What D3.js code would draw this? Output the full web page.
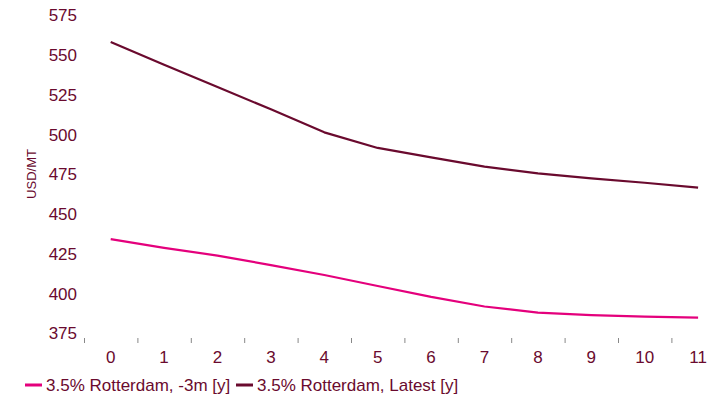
<!DOCTYPE html>
<html><head><meta charset="utf-8">
<script src="https://cdn.jsdelivr.net/npm/d3@7"></script>
<style>body{margin:0;background:#fff}svg{display:block;font-family:"Liberation Sans",Arial,sans-serif}</style>
</head><body><svg id="c" width="717" height="406"></svg>
<script>
const categories = ["0","1","2","3","4","5","6","7","8","9","10","11"];
const seriesNames = ["3.5% Rotterdam, -3m [y]", "3.5% Rotterdam, Latest [y]"];
const minus3m = [434.4, 428.9, 424, 418, 411.8, 404.9, 398, 392, 388.1, 386.6, 385.6, 385];
const latest = [558.3, 544, 530, 516, 501.5, 491.7, 485.8, 480, 475.7, 472.6, 469.8, 466.7];
const yTicks = [375, 400, 425, 450, 475, 500, 525, 550, 575];
const colors = ["#e4007c", "#6a0a2e"];
const textColor = "#6a0a2e";

const svg = d3.select("#c");
const x = d3.scaleBand().domain(categories).range([84, 84 + 12 * 53.4]);
const y = d3.scaleLinear().domain([375, 575]).range([333.5, 15.5]);

const ya = svg.append("g").attr("transform", "translate(77,0)")
  .call(d3.axisLeft(y).tickValues(yTicks).tickSize(0).tickPadding(0));
ya.select(".domain").remove();
ya.selectAll("text").attr("fill", textColor).attr("font-size", 17).attr("font-family", "Liberation Sans, Arial, sans-serif");

const xg = svg.append("g");
xg.selectAll("line").data(categories).join("line")
  .attr("x1", d => x(d) + 0.5).attr("x2", d => x(d) + 0.5)
  .attr("y1", 338).attr("y2", 343).attr("stroke", "#888").attr("stroke-width", 1);
xg.selectAll("text").data(categories).join("text")
  .attr("x", d => x(d) + x.bandwidth() / 2).attr("y", 363)
  .attr("text-anchor", "middle").attr("fill", textColor).attr("font-size", 17).text(d => d);

svg.append("text").attr("transform", "translate(36,174) rotate(-90)")
  .attr("text-anchor", "middle").attr("fill", textColor).attr("font-size", 13).text("USD/MT");

const line = d3.line().x((d, i) => x(categories[i]) + x.bandwidth() / 2).y(d => y(d));
[minus3m, latest].forEach((s, k) => {
  svg.append("path").attr("d", line(s)).attr("fill", "none")
    .attr("stroke", colors[k]).attr("stroke-width", 2.2).attr("stroke-linejoin", "round");
});

const lg = svg.append("g");
const lx = [25, 236];
seriesNames.forEach((n, k) => {
  lg.append("line").attr("x1", lx[k]).attr("x2", lx[k] + 17).attr("y1", 385).attr("y2", 385)
    .attr("stroke", colors[k]).attr("stroke-width", 3);
  lg.append("text").attr("x", lx[k] + 21).attr("y", 391).attr("fill", textColor)
    .attr("font-size", 17).text(n);
});
</script></body></html>
